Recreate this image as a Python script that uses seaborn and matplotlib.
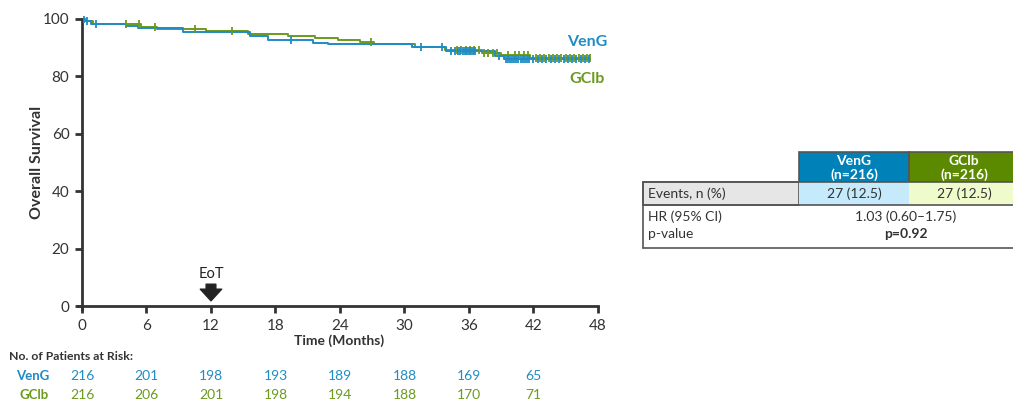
import numpy as np
import pandas as pd
import matplotlib
matplotlib.use("Agg")
import matplotlib.pyplot as plt
import matplotlib.transforms as mtransforms
from matplotlib.patches import Rectangle
import seaborn as sns

# ---------------- data ----------------
veng_times = [0, 0.3, 0.8, 4.1, 5.2, 9.4, 15.6, 17.3, 21.5, 22.9, 30.7, 33.9, 38.4, 39.3, 47.3]
veng_surv = [100, 99.3, 98.3, 97.6, 96.9, 95.5, 94.0, 92.8, 91.7, 91.2, 90.1, 89.0, 87.2, 86.1, 86.1]
veng_censor = [0.2, 0.5, 1.3, 19.4, 31.5, 33.5, 34.3, 34.7, 35.0, 35.2, 35.4, 35.6, 35.8, 36.0,
               36.2, 36.4, 36.6, 38.8, 39.4, 39.6, 39.8, 40.0, 40.2, 40.4, 40.6, 40.8, 41.0,
               41.2, 41.4, 41.6, 42.0, 42.4, 42.8, 43.2, 43.6, 44.0, 44.4, 44.8, 45.2, 45.6,
               46.0, 46.4, 46.8, 47.2]

gclb_times = [0, 0.3, 1.0, 4.1, 5.5, 7.0, 11.5, 15.4, 19.2, 21.7, 23.8, 25.9, 27.2, 31.0, 33.8,
              37.2, 39.0, 41.7, 47.3]
gclb_surv = [100, 99.3, 98.4, 98.1, 97.2, 96.4, 95.8, 94.7, 94.1, 93.4, 92.8, 92.1, 91.2, 90.3,
             89.2, 88.2, 87.4, 86.4, 86.4]
gclb_censor = [4.1, 5.3, 6.8, 10.5, 14.0, 26.9, 34.9, 35.3, 35.7, 36.1, 36.5, 36.9, 37.4, 37.8,
               38.2, 38.6, 39.6, 40.3, 40.7, 41.1, 41.5, 42.2, 42.6, 43.0, 43.4, 43.8, 44.2,
               44.6, 45.0, 45.4, 45.8, 46.2, 46.6, 47.0, 47.3]

risk_times = [0, 6, 12, 18, 24, 30, 36, 42]
veng_risk = [216, 201, 198, 193, 189, 188, 169, 65]
gclb_risk = [216, 206, 201, 198, 194, 188, 170, 71]

x_ticks = [0, 6, 12, 18, 24, 30, 36, 42, 48]
y_ticks = [0, 20, 40, 60, 80, 100]

arm_names = ["VenG", "GClb"]
arm_headers = ["VenG\n(n=216)", "GClb\n(n=216)"]
events_label = "Events, n (%)"
events_vals = ["27 (12.5)", "27 (12.5)"]
hr_label = "HR (95% CI)"
p_label = "p-value"
hr_text = "1.03 (0.60\u20131.75)"
p_text = "p=0.92"

# ---------------- style ----------------
BLUE = "#1f8cc4"
GREEN = "#6b9a1f"
HEAD_BLUE = "#0081b8"
HEAD_GREEN = "#5b8a00"
LIGHT_BLUE = "#c4eafb"
LIGHT_GREEN = "#f0fbcb"
GRAY = "#e6e6e6"
DARK = "#333333"

sns.set_style("white")
plt.rcParams["font.family"] = ["Lato", "DejaVu Sans"]

fig = plt.figure(figsize=(10.13, 4.0), dpi=100)
ax = fig.add_axes([0.0767, 0.2278, 0.5157, 0.732])

def step_df(t, s):
    return pd.DataFrame({"t": t, "s": s})

def censor_df(t, s, c):
    t = np.asarray(t); s = np.asarray(s)
    idx = np.searchsorted(t, c, side="right") - 1
    return pd.DataFrame({"t": c, "s": s[idx]})

for t, s, c, col in [(gclb_times, gclb_surv, gclb_censor, GREEN),
                     (veng_times, veng_surv, veng_censor, BLUE)]:
    sns.lineplot(data=step_df(t, s), x="t", y="s", drawstyle="steps-post",
                 color=col, linewidth=1.4, ax=ax, estimator=None, sort=False)
    sns.scatterplot(data=censor_df(t, s, c), x="t", y="s", marker="|", s=40,
                    color=col, linewidth=1.3, ax=ax, zorder=3)

ax.set_xlim(-0.4, 48.2)
ax.set_ylim(-1.0, 101)
for side in ["top", "right"]:
    ax.spines[side].set_visible(False)
ax.spines["left"].set_position(("data", 0))
ax.spines["bottom"].set_position(("data", 0))
ax.spines["left"].set_bounds(-1.0, 100)
ax.spines["bottom"].set_bounds(-0.4, 48)
for side in ["left", "bottom"]:
    ax.spines[side].set_linewidth(2.0)
    ax.spines[side].set_color(DARK)
ax.set_xticks(x_ticks)
ax.set_yticks(y_ticks)
ax.tick_params(axis="both", which="major", length=5, width=2.0, color=DARK,
               labelsize=11, labelcolor="#333333", direction="out",
               bottom=True, left=True)
ax.tick_params(axis="y", pad=4)
ax.tick_params(axis="x", pad=4)
ax.set_xlabel("Time (Months)", fontsize=10, fontweight="bold", color="#333333", labelpad=1)
ax.set_ylabel("Overall Survival", fontsize=11.5, fontweight="bold", color="#333333")
ax.yaxis.set_label_coords(-0.064, 0.5)
ax.grid(False)

# arm labels
ax.text(45.1, 91.8, arm_names[0], color=BLUE, fontsize=11.5, fontweight="bold",
        ha="left", va="center")
ax.text(45.3, 79.0, arm_names[1], color=GREEN, fontsize=11.5, fontweight="bold",
        ha="left", va="center")

# EoT marker
ax.text(12, 11.0, "EoT", ha="center", va="center", fontsize=10.5, color="#222222")
ax.annotate("", xy=(12, 1.8), xytext=(12, 7.6),
            arrowprops=dict(arrowstyle="simple,head_width=1.1,head_length=0.6,tail_width=0.5",
                            color="#222222", mutation_scale=14, shrinkA=0, shrinkB=0))

# at-risk table
tr = mtransforms.blended_transform_factory(ax.transData, fig.transFigure)
fig.text(9 / 1013, 1 - 357 / 400, "No. of Patients at Risk:", fontsize=8.8,
         fontweight="bold", color="#333333", ha="left", va="center")
for name, vals, col, yp in [(arm_names[0], veng_risk, BLUE, 376),
                            (arm_names[1], gclb_risk, GREEN, 395)]:
    fig.text(49 / 1013, 1 - yp / 400, name, fontsize=9.5, fontweight="bold",
             color=col, ha="right", va="center")
    for tt, v in zip(risk_times, vals):
        ax.text(tt, 1 - yp / 400, str(v), transform=tr, fontsize=10, color=col,
                ha="center", va="center")

# right-hand summary table (pixel coordinates)
tax = fig.add_axes([0, 0, 1, 1])
tax.set_xlim(0, 1013)
tax.set_ylim(400, 0)
tax.axis("off")
edge = "#555555"
L, C1, C2, R = 643, 799, 909, 1025
Y0, Y1, Y2, Y3 = 152, 182, 205, 248
tax.add_patch(Rectangle((C1, Y0), C2 - C1, Y1 - Y0, facecolor=HEAD_BLUE, edgecolor=edge, lw=1.2))
tax.add_patch(Rectangle((C2, Y0), R - C2, Y1 - Y0, facecolor=HEAD_GREEN, edgecolor=edge, lw=1.2))
tax.add_patch(Rectangle((L, Y1), C1 - L, Y2 - Y1, facecolor=GRAY, edgecolor=edge, lw=1.2))
tax.add_patch(Rectangle((C1, Y1), C2 - C1, Y2 - Y1, facecolor=LIGHT_BLUE, edgecolor="none"))
tax.add_patch(Rectangle((C2, Y1), R - C2, Y2 - Y1, facecolor=LIGHT_GREEN, edgecolor="none"))
tax.plot([L, R], [Y1, Y1], color=edge, lw=1.2)
tax.plot([L, R], [Y2, Y2], color=edge, lw=1.2)
tax.plot([L, R], [Y3, Y3], color=edge, lw=1.2)
tax.plot([L, L], [Y1, Y3], color=edge, lw=1.2)

tax.text((C1 + C2) / 2, (Y0 + Y1) / 2 + 1, arm_headers[0], color="white", fontsize=10,
         fontweight="bold", ha="center", va="center", linespacing=1.05)
tax.text((C2 + 1019) / 2, (Y0 + Y1) / 2 + 1, arm_headers[1], color="white", fontsize=10,
         fontweight="bold", ha="center", va="center", linespacing=1.05)
tax.text(L + 5, (Y1 + Y2) / 2, events_label, fontsize=10, color="#333333", ha="left", va="center")
tax.text((C1 + C2) / 2, (Y1 + Y2) / 2, events_vals[0], fontsize=10, color="#333333",
         ha="center", va="center")
tax.text((C2 + 1019) / 2, (Y1 + Y2) / 2, events_vals[1], fontsize=10, color="#333333",
         ha="center", va="center")
tax.text(L + 5, 217, hr_label, fontsize=10, color="#333333", ha="left", va="center")
tax.text(L + 5, 234, p_label, fontsize=10, color="#333333", ha="left", va="center")
tax.text(906, 217, hr_text, fontsize=10, color="#333333", ha="center", va="center")
tax.text(906, 234, p_text, fontsize=10, color="#333333", ha="center", va="center",
         fontweight="bold")

fig.savefig("out.png", dpi=100)
